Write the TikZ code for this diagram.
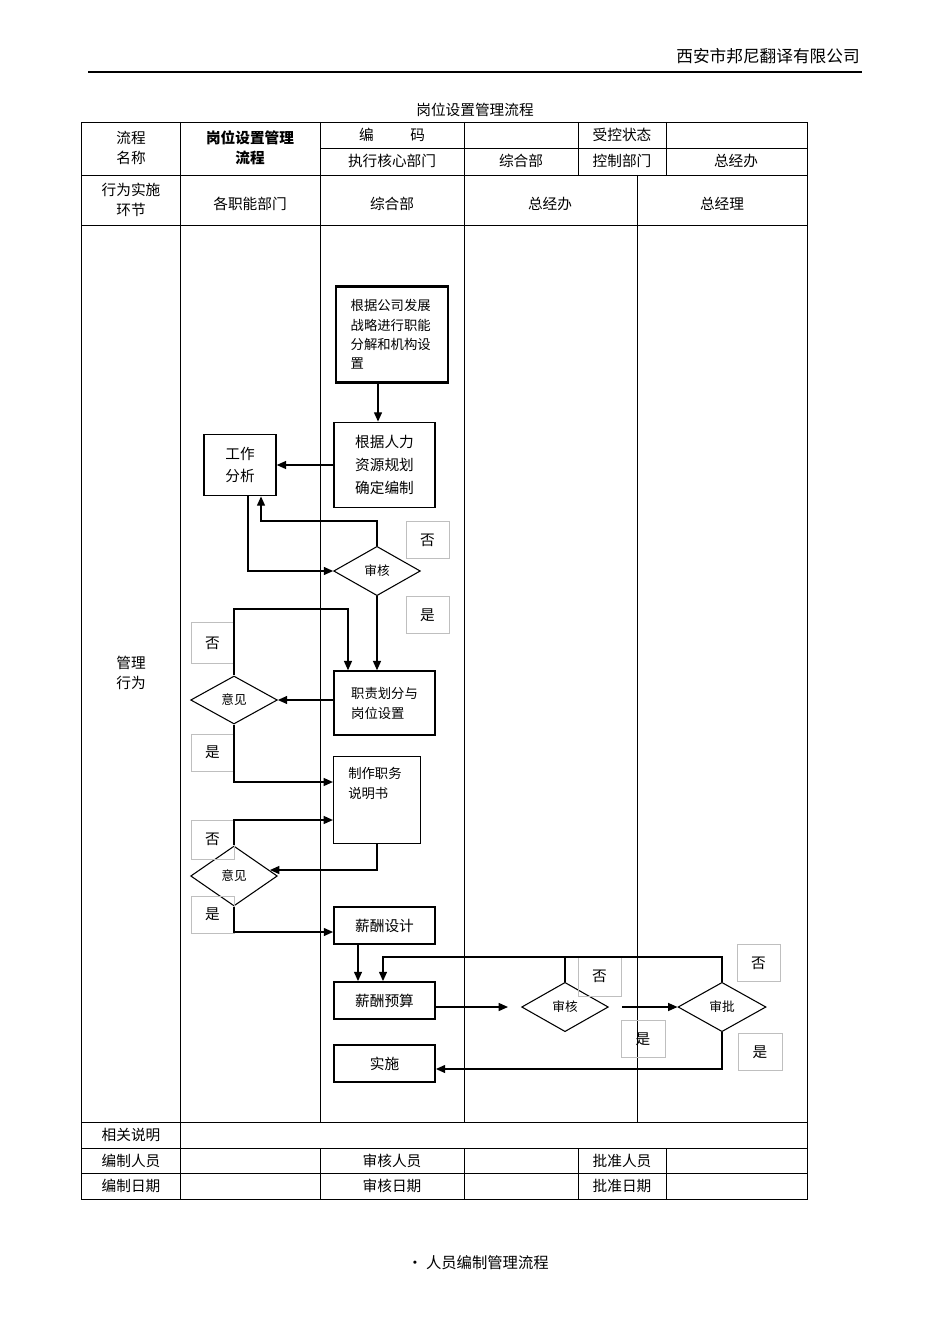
\documentclass[tikz,border=0pt]{standalone}
\usepackage{fontspec}
\setmainfont{Noto Sans CJK SC}
\usetikzlibrary{shapes.geometric,arrows.meta}
\begin{document}
\begin{tikzpicture}[x=0.75pt,y=-0.75pt,
 tl/.style={line width=0.6pt},
 cell/.style={font=\fontsize{11}{15}\selectfont,align=center,inner sep=0pt},
 fbox/.style={draw,line width=1.1pt,font=\fontsize{11}{17}\selectfont,inner sep=0pt,align=left},
 dia/.style={draw,diamond,aspect=1.8,line width=0.8pt,inner sep=0pt,font=\fontsize{9.5}{11}\selectfont},
 lab/.style={draw=black!25,line width=0.5pt,font=\fontsize{11}{13}\selectfont},
 ar/.style={line width=1pt,-{Triangle[length=7pt,width=6pt]}},
 ln/.style={line width=1pt}]
\useasboundingbox (0,0) rectangle (950,1344);
\node[cell,anchor=east,font=\fontsize{12.5}{15}\selectfont] (co) at (860,56) {西安市邦尼翻译有限公司};
\draw[line width=2pt] (88,72) -- (862,72);
\node[cell] (title) at (475,110) {岗位设置管理流程};
% table
\draw[tl] (81,122) rectangle (807,1199);
\foreach \y in {175,225,1122,1148,1173} \draw[tl] (81,\y) -- (807,\y);
\draw[tl] (320,148) -- (807,148);
\foreach \x in {180,320,464,578,666} \draw[tl] (\x,122) -- (\x,175);
\foreach \x in {180,320,464,637} \draw[tl] (\x,175) -- (\x,1122);
\draw[tl] (180,1122) -- (180,1148);
\foreach \x in {180,320,464,578,666} \draw[tl] (\x,1148) -- (\x,1199);
\node[cell] (t1) at (131,148) {流程\\名称};
\node[cell,font=\bfseries\fontsize{11}{15}\selectfont] (t2) at (250,148) {岗位设置管理\\流程};
\node[cell] (t3) at (392,135) {编\hspace{2.5em}码};
\node[cell] (t4) at (392,161) {执行核心部门};
\node[cell] (t5) at (521,161) {综合部};
\node[cell] (t6) at (622,135) {受控状态};
\node[cell] (t7) at (622,161) {控制部门};
\node[cell] (t8) at (736,161) {总经办};
\node[cell] (h1) at (131,200) {行为实施\\环节};
\node[cell] (h2) at (250,204) {各职能部门};
\node[cell] (h3) at (392,204) {综合部};
\node[cell] (h4) at (550,204) {总经办};
\node[cell] (h5) at (722,204) {总经理};
\node[cell] (mg) at (131,673) {管理\\行为};
\node[cell] (f1) at (131,1135) {相关说明};
\node[cell] (f2) at (131,1161) {编制人员};
\node[cell] (f3) at (392,1161) {审核人员};
\node[cell] (f4) at (622,1161) {批准人员};
\node[cell] (f5) at (131,1186) {编制日期};
\node[cell] (f6) at (392,1186) {审核日期};
\node[cell] (f7) at (622,1186) {批准日期};
% flow
\node[fbox,line width=2.2pt,minimum width=84pt,minimum height=72pt,font=\fontsize{10}{14.5}\selectfont,text width=62pt,inner sep=0pt,align=left] (A) at (392,334.5) {根据公司发展\\战略进行职能\\分解和机构设\\置};
\node[fbox,minimum width=76pt,minimum height=64pt,align=center] (B) at (384.5,465) {根据人力\\资源规划\\确定编制};
\node[fbox,minimum width=54pt,minimum height=46pt,align=center] (C) at (240,465) {工作\\分析};
\node[dia,minimum width=65pt,minimum height=37pt] (D) at (377,571) {审核};
\node[fbox,minimum width=76pt,minimum height=48pt,font=\fontsize{10}{15}\selectfont] (E) at (384.5,703) {职责划分与\\岗位设置};
\node[dia,minimum width=65pt,minimum height=36pt] (F) at (234,700) {意见};
\node[fbox,minimum width=65pt,minimum height=65pt] (G) at (377,800) {};
\node[font=\fontsize{10}{15}\selectfont,align=left,anchor=north west,inner sep=0pt] (Gt) at (348,767) {制作职务\\说明书};
\node[dia,minimum width=65pt,minimum height=45pt] (H) at (234,876) {意见};
\node[fbox,minimum width=76pt,minimum height=28pt] (I) at (384.5,925.5) {薪酬设计};
\node[fbox,minimum width=76pt,minimum height=28pt] (J) at (384.5,1000.5) {薪酬预算};
\node[fbox,minimum width=76pt,minimum height=28pt] (M) at (384.5,1063.5) {实施};
\node[dia,minimum width=65pt,minimum height=37pt] (K) at (565,1007) {审核};
\node[dia,minimum width=66pt,minimum height=37pt] (L) at (722,1007) {审批};
\node[lab,minimum width=32pt,minimum height=28pt] (n1) at (427.5,540) {否};
\node[lab,minimum width=32pt,minimum height=28pt] (y1) at (427.5,615) {是};
\node[lab,minimum width=32pt,minimum height=31pt] (n2) at (212.5,643) {否};
\node[lab,minimum width=32pt,minimum height=28pt] (y2) at (212.5,752.5) {是};
\node[lab,minimum width=32pt,minimum height=29pt] (n3) at (212.5,839.5) {否};
\node[lab,minimum width=32pt,minimum height=28pt] (y3) at (212.5,914.5) {是};
\node[lab,minimum width=32pt,minimum height=29pt] (n4) at (599.5,976.5) {否};
\node[lab,minimum width=32pt,minimum height=28pt] (n5) at (758.5,963) {否};
\node[lab,minimum width=33pt,minimum height=28pt] (y4) at (643,1039) {是};
\node[lab,minimum width=33pt,minimum height=28pt] (y5) at (760,1052) {是};
\coordinate (j1) at (508,1007);
\coordinate (j2) at (622,1007);
\draw[ar] (A.south -| 378,0) -- (B.north -| 378,0);
\draw[ar] (B.west) -- (C.east);
\draw[ar] (C.south -| 248,0) |- (D.west);
\draw[ar] (D.north) |- (261,521) -- (C.south -| 261,0);
\draw[ar] (D.south) -- (E.north -| D.south);
\draw[ar] (E.west |- F.east) -- (F.east);
\draw[ar] (F.north) |- (348,609) -- (E.north -| 348,0);
\draw[ar] (F.south) |- (G.west |- 0,782);
\draw[ar] (G.south) |- (270,870);
\draw[ar] (H.north) |- (G.west |- 0,820);
\draw[ar] (H.south) |- (I.west |- 0,932);
\draw[ar] (I.south -| 358,0) -- (J.north -| 358,0);
\draw[ln] (K.north) |- (L.north |- 0,957) -- (L.north);
\draw[ar] (K.north |- 0,957) -- (383,957) -- (J.north -| 383,0);
\draw[ar] (J.east |- 0,1007) -- (j1);
\draw[ar] (j2) -- (L.west);
\draw[ar] (L.south) |- (M.east |- 0,1069);
\node[cell,font=\fontsize{11.5}{15}\selectfont] (foot) at (478,1263) {• 人员编制管理流程};
\end{tikzpicture}
\end{document}
